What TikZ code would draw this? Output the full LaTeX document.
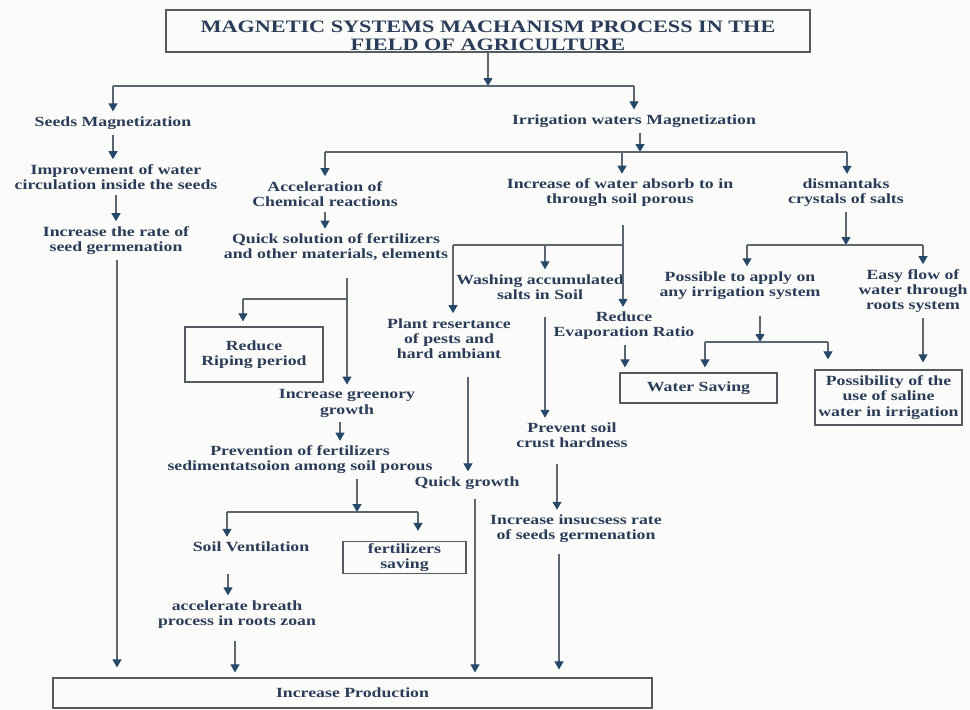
\documentclass[tikz,border=0pt]{standalone}
\usepackage{fontspec}
\setmainfont{Liberation Serif}[FakeStretch=1.27]
\usetikzlibrary{arrows.meta}
\definecolor{tx}{RGB}{42,60,88}
\definecolor{lc}{RGB}{92,102,112}
\definecolor{ah}{RGB}{38,72,105}
\definecolor{bx}{RGB}{85,90,96}
\definecolor{bg}{RGB}{251,252,250}
\begin{document}
\begin{tikzpicture}[x=1pt,y=-1pt,
  txt/.style={align=center, font=\fontsize{14}{15.2}\selectfont\bfseries, text=tx, inner xsep=2pt, inner ysep=5pt},
  boxn/.style={txt, draw=bx, line width=1.2pt, inner ysep=2pt},
  ln/.style={draw=lc, line width=1.1pt},
  arr/.style={ln, -{Triangle[width=9pt,length=8pt,color=ah]}},
]
\useasboundingbox (0,0) rectangle (970,710);
\fill[bg] (0,0) rectangle (970,710);

% title
\node[draw=bx, line width=1.5pt, minimum width=644pt, minimum height=42pt, inner sep=0] (title) at (488,31) {};
\node[align=center, font=\fontsize{17.5}{18}\selectfont\bfseries, text=tx, inner sep=0] (titletext) at (488,35.5) {MAGNETIC SYSTEMS MACHANISM PROCESS IN THE\\FIELD OF AGRICULTURE};

% text nodes
\node[txt] (seeds) at (113,123) {Seeds Magnetization};
\node[txt] (improve) at (116,177) {Improvement of water\\circulation inside the seeds};
\node[txt] (rate) at (116,240.5) {Increase the rate of\\seed germenation};
\node[txt] (irr) at (634,121) {Irrigation waters Magnetization};
\node[txt] (accel) at (325,194) {Acceleration of\\Chemical reactions};
\node[txt] (absorb) at (620,193) {Increase of water absorb to in\\through soil porous};
\node[txt] (dism) at (846,193) {dismantaks\\crystals of salts};
\node[txt] (quick) at (336,247.5) {Quick solution of fertilizers\\and other materials, elements};
\node[boxn, minimum width=138pt, minimum height=55pt] (riping) at (254,354.5) {Reduce\\Riping period};
\node[txt] (greenory) at (347,403.5) {Increase greenory\\growth};
\node[txt] (prevention) at (300,460) {Prevention of fertilizers\\sedimentatsoion among soil porous};
\node[txt] (soilvent) at (251,547) {Soil Ventilation};
\node[boxn, minimum width=123pt, minimum height=31pt] (fsaving) at (404.5,557.5) {fertilizers\\saving};
\node[txt] (breath) at (237,614.5) {accelerate breath\\process in roots zoan};
\node[boxn, minimum width=599pt, minimum height=30pt] (prod) at (352.5,693) {Increase Production};
\node[txt] (wash) at (540,287) {Washing accumulated\\salts in Soil};
\node[txt] (plant) at (449,338.5) {Plant resertance\\of pests and\\hard ambiant};
\node[txt] (reduce) at (624,326) {Reduce\\Evaporation Ratio};
\node[txt] (qg) at (467,483) {Quick growth};
\node[txt] (prevent) at (572,435.5) {Prevent soil\\crust hardness};
\node[txt] (insuc) at (576,529) {Increase insucsess rate\\of seeds germenation};
\node[txt] (poss) at (740,285.5) {Possible to apply on\\any irrigation system};
\node[txt] (easy) at (913,291) {Easy flow of\\water through\\roots system};
\node[boxn, minimum width=157pt, minimum height=30pt] (ws) at (698.5,388) {Water Saving};
\node[boxn, minimum width=147pt, minimum height=55pt] (possib) at (888.5,397.5) {Possibility of the\\use of saline\\water in irrigation};

% junction coordinates
\coordinate (j0) at (488,86);
\coordinate (jL) at (113,86);
\coordinate (jR) at (634,86);
\coordinate (jI) at (640,152);
\coordinate (b1L) at (325,152);
\coordinate (b1M) at (622,152);
\coordinate (b1R) at (847,152);
\coordinate (jD) at (846,245);
\coordinate (b2L) at (747,245);
\coordinate (b2R) at (923,245);
\coordinate (jP) at (760,342);
\coordinate (b3L) at (705,342);
\coordinate (b3R) at (828,342);
\coordinate (bA1) at (453,245);
\coordinate (bA2) at (545,245);
\coordinate (bA3) at (623,245);
\coordinate (bQ1) at (243,299);
\coordinate (bQ2) at (347,299);
\coordinate (jV) at (357,512);
\coordinate (b5L) at (227,512);
\coordinate (b5R) at (418,512);
\coordinate (xRd) at (625,0);
\coordinate (xPl) at (468,0);
\coordinate (xQg) at (475,0);
\coordinate (xPr) at (557,0);
\coordinate (xIn) at (559,0);
\coordinate (xGr) at (340,0);
\coordinate (xSv) at (228,0);
\coordinate (xBr) at (235,0);
\coordinate (xRt) at (117,0);

% top level
\draw[arr] (title.south) -- (j0);
\draw[ln] (jL) -- (jR);
\draw[arr] (jL) -- (seeds.north -| jL);
\draw[arr] (jR) -- (irr.north -| jR);

% seeds branch
\draw[arr] (seeds) -- (improve.north -| seeds);
\draw[arr] (improve) -- (rate.north -| improve);
\draw[arr, shorten >=10pt] (rate.south -| xRt) -- (prod.north -| xRt);

% irrigation branch
\draw[arr] (irr.south -| jI) -- (jI);
\draw[ln] (b1L) -- (b1R);
\draw[arr] (b1L) -- (accel.north -| b1L);
\draw[arr] (b1M) -- (absorb.north -| b1M);
\draw[arr] (b1R) -- (dism.north -| b1R);

% acceleration sub-branch
\draw[arr] (accel.south -| b1L) -- (quick.north -| b1L);
\draw[arr, shorten <=12pt] (quick.south -| bQ2) -- (greenory.north -| bQ2);
\draw[ln] (bQ1) -- (bQ2);
\draw[arr, shorten >=5pt] (bQ1) -- (riping.north -| bQ1);
\draw[arr] (greenory.south -| xGr) -- (prevention.north -| xGr);
\draw[arr] (prevention.south -| jV) -- (jV);
\draw[ln] (b5L) -- (b5R);
\draw[arr] (b5L) -- (soilvent.north -| b5L);
\draw[arr, shorten >=10pt] (b5R) -- (fsaving.north -| b5R);
\draw[arr, shorten <=17pt] (soilvent.south -| xSv) -- (breath.north -| xSv);
\draw[arr, shorten <=7pt, shorten >=5pt] (breath.south -| xBr) -- (prod.north -| xBr);

% absorb sub-branch
\draw[arr, shorten <=13pt] (absorb.south -| bA3) -- (reduce.north -| bA3);
\draw[ln] (bA1) -- (bA3);
\draw[arr] (bA1) -- (plant.north -| bA1);
\draw[arr] (bA2) -- (wash.north -| bA2);
\draw[arr, shorten <=13pt] (plant.south -| xPl) -- (qg.north -| xPl);
\draw[arr, shorten <=4pt, shorten >=5pt] (qg.south -| xQg) -- (prod.north -| xQg);
\draw[arr, shorten <=12pt] (wash.south -| bA2) -- (prevent.north -| bA2);
\draw[arr, shorten <=11pt] (prevent.south -| xPr) -- (insuc.north -| xPr);
\draw[arr, shorten <=6pt, shorten >=8pt] (insuc.south -| xIn) -- (prod.north -| xIn);
\draw[arr, shorten >=5pt] (reduce.south -| xRd) -- (ws.north -| xRd);

% dismantaks sub-branch
\draw[arr] (dism.south -| jD) -- (jD);
\draw[ln] (b2L) -- (b2R);
\draw[arr] (b2L) -- (poss.north -| b2L);
\draw[arr] (b2R) -- (easy.north -| b2R);
\draw[arr, shorten <=11pt] (poss.south -| jP) -- (jP);
\draw[ln] (b3L) -- (b3R);
\draw[arr, shorten >=5pt] (b3L) -- (ws.north -| b3L);
\draw[arr, shorten >=10pt] (b3R) -- (possib.north -| b3R);
\draw[arr, shorten >=7pt] (easy.south -| b2R) -- (possib.north -| b2R);
\end{tikzpicture}
\end{document}
